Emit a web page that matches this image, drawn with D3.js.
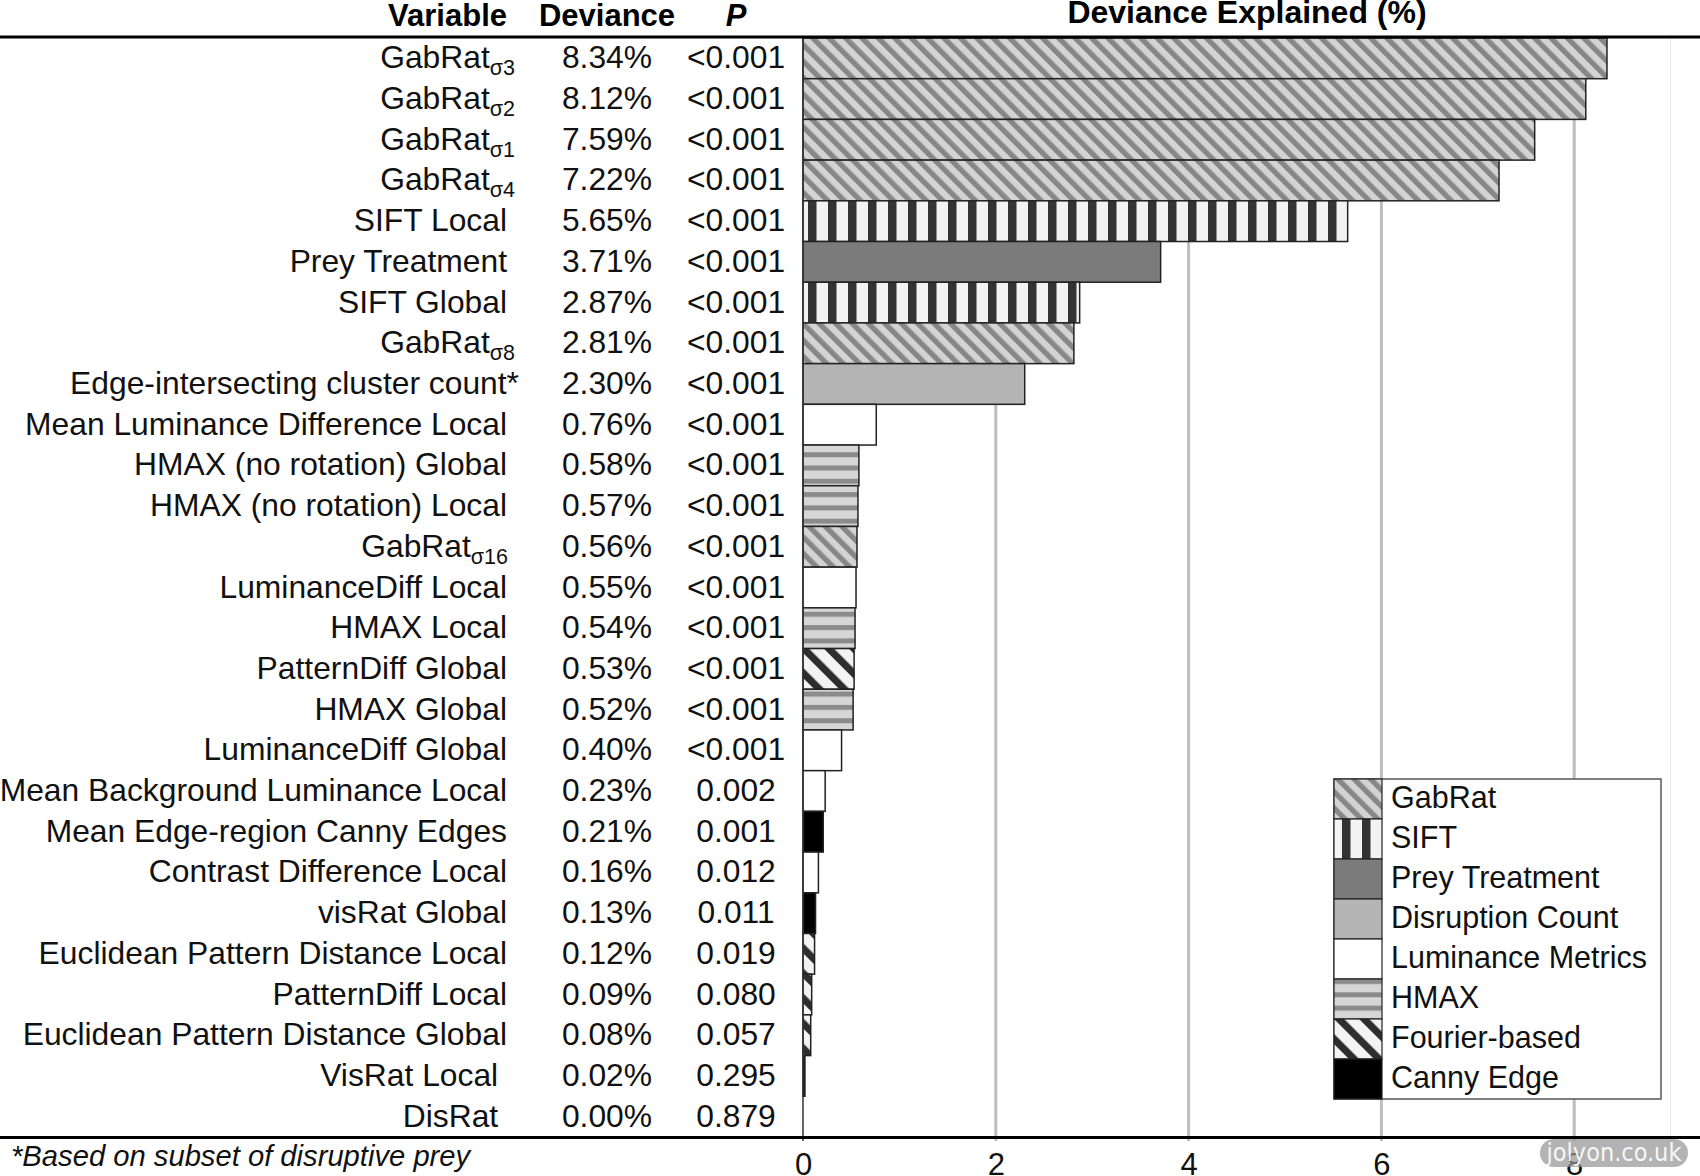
<!DOCTYPE html>
<html>
<head>
<meta charset="utf-8">
<script src="https://cdn.jsdelivr.net/npm/d3@7"></script>
<style>
  html, body { margin: 0; padding: 0; background: #fff; }
  svg { display: block; }
</style>
</head>
<body>
<svg id="chart" width="1700" height="1176"></svg>
<script>
// ---------------- DATA ----------------
const variables = [
  "GabRat_{σ3}", "GabRat_{σ2}", "GabRat_{σ1}", "GabRat_{σ4}",
  "SIFT Local", "Prey Treatment", "SIFT Global", "GabRat_{σ8}",
  "Edge-intersecting cluster count*", "Mean Luminance Difference Local",
  "HMAX (no rotation) Global", "HMAX (no rotation) Local", "GabRat_{σ16}",
  "LuminanceDiff Local", "HMAX Local", "PatternDiff Global", "HMAX Global",
  "LuminanceDiff Global", "Mean Background Luminance Local",
  "Mean Edge-region Canny Edges", "Contrast Difference Local", "visRat Global",
  "Euclidean Pattern Distance Local", "PatternDiff Local",
  "Euclidean Pattern Distance Global", "VisRat Local ", "DisRat "
];
const deviance = [
  8.34, 8.12, 7.59, 7.22, 5.65, 3.71, 2.87, 2.81, 2.30, 0.76, 0.58, 0.57, 0.56,
  0.55, 0.54, 0.53, 0.52, 0.40, 0.23, 0.21, 0.16, 0.13, 0.12, 0.09, 0.08, 0.02, 0.00
];
const pValues = [
  "<0.001", "<0.001", "<0.001", "<0.001", "<0.001", "<0.001", "<0.001", "<0.001",
  "<0.001", "<0.001", "<0.001", "<0.001", "<0.001", "<0.001", "<0.001", "<0.001",
  "<0.001", "<0.001", "0.002", "0.001", "0.012", "0.011", "0.019", "0.080",
  "0.057", "0.295", "0.879"
];
const groups = [
  "GabRat", "GabRat", "GabRat", "GabRat", "SIFT", "Prey Treatment", "SIFT", "GabRat",
  "Disruption Count", "Luminance Metrics", "HMAX", "HMAX", "GabRat",
  "Luminance Metrics", "HMAX", "Fourier-based", "HMAX", "Luminance Metrics",
  "Luminance Metrics", "Canny Edge", "Luminance Metrics", "Canny Edge",
  "Fourier-based", "Fourier-based", "Fourier-based", "Canny Edge", "Canny Edge"
];
const legendGroups = [
  "GabRat", "SIFT", "Prey Treatment", "Disruption Count",
  "Luminance Metrics", "HMAX", "Fourier-based", "Canny Edge"
];
const xTicks = [0, 2, 4, 6, 8];
const headers = { variable: "Variable", deviance: "Deviance", p: "P", axis: "Deviance Explained (%)" };
const footnote = "*Based on subset of disruptive prey";
const watermark = "jolyon.co.uk";

// ---------------- SETUP ----------------
const W = 1700, H = 1176;
const svg = d3.select("#chart");
const bodyFont = "'Liberation Sans', Arial, sans-serif";
const headFont = "'Liberation Sans', Arial, sans-serif";
const bodySize = 31.8;

const x = d3.scaleLinear().domain([0, 9]).range([803, 803 + 9 * 96.4]);
const y = d3.scaleBand().domain(d3.range(variables.length)).range([38, 1137]).padding(0);

// ---------------- PATTERNS ----------------
const defs = svg.append("defs");
function stripePattern(id, period, darkW, light, dark, rotate, offset) {
  const p = defs.append("pattern").attr("id", id)
    .attr("patternUnits", "userSpaceOnUse")
    .attr("width", period).attr("height", period)
    .attr("x", offset || 0);
  if (rotate !== null) p.attr("patternTransform", `rotate(${rotate})`);
  p.append("rect").attr("width", period).attr("height", period).attr("fill", light);
  p.append("rect").attr("x", 0).attr("width", darkW).attr("height", period).attr("fill", dark);
}
function hPattern(id, period, darkH, light, dark) {
  const p = defs.append("pattern").attr("id", id)
    .attr("patternUnits", "userSpaceOnUse")
    .attr("width", period).attr("height", period);
  p.append("rect").attr("width", period).attr("height", period).attr("fill", light);
  p.append("rect").attr("y", 0).attr("width", period).attr("height", darkH).attr("fill", dark);
}
stripePattern("pat-gabrat", 11.6, 5.3, "#d3d3d3", "#878787", -45, 0);
stripePattern("pat-sift", 20, 8.5, "#f3f3f3", "#333333", null, 8);
stripePattern("pat-fourier", 17.7, 7.2, "#f3f3f3", "#2e2e2e", -45, 0);
hPattern("pat-hmax", 13.3, 5, "#d6d6d6", "#8b8b8b");

const fills = {
  "GabRat": "url(#pat-gabrat)",
  "SIFT": "url(#pat-sift)",
  "Prey Treatment": "#7b7b7b",
  "Disruption Count": "#b4b4b4",
  "Luminance Metrics": "#ffffff",
  "HMAX": "url(#pat-hmax)",
  "Fourier-based": "url(#pat-fourier)",
  "Canny Edge": "#000000"
};

// ---------------- GRID ----------------
svg.append("g").selectAll("line.grid")
  .data(xTicks.filter(t => t > 0))
  .join("line")
  .attr("x1", d => x(d)).attr("x2", d => x(d))
  .attr("y1", 38).attr("y2", 1141)
  .attr("stroke", "#bdbdbd").attr("stroke-width", 3);

// faint plot edge
svg.append("line")
  .attr("x1", x(9)).attr("x2", x(9)).attr("y1", 38).attr("y2", 1137)
  .attr("stroke", "#ededed").attr("stroke-width", 1.2);

// ---------------- BARS ----------------
const rows = variables.map((v, i) => ({ i, label: v, dev: deviance[i], p: pValues[i], group: groups[i] }));

svg.append("g").selectAll("rect.bar")
  .data(rows.filter(d => d.dev > 0))
  .join("rect")
  .attr("x", x(0))
  .attr("y", d => y(d.i))
  .attr("width", d => x(d.dev) - x(0))
  .attr("height", y.bandwidth())
  .attr("fill", d => fills[d.group])
  .attr("stroke", "#222")
  .attr("stroke-width", 1.5);

// zero line
svg.append("line")
  .attr("x1", x(0)).attr("x2", x(0)).attr("y1", 38).attr("y2", 1141)
  .attr("stroke", "#333").attr("stroke-width", 1.5);

// ---------------- TABLE TEXT ----------------
const labelG = svg.append("g")
  .attr("font-family", bodyFont).attr("font-size", bodySize).attr("fill", "#111");

rows.forEach(d => {
  const cy = y(d.i) + y.bandwidth() / 2 + 10;
  const m = d.label.match(/^(.*)_\{(.*)\}$/);
  let nudge = 0;
  if (m) nudge = m[2].length <= 2 ? 8 : 1;
  else if (d.label.endsWith("*")) nudge = 12;
  const t = labelG.append("text")
    .attr("x", 507 + nudge).attr("y", cy)
    .attr("text-anchor", "end")
    .style("white-space", "pre");
  if (m) {
    t.append("tspan").text(m[1]);
    t.append("tspan").attr("font-size", 21.5).attr("dy", 7).text(m[2]);
  } else {
    t.text(d.label);
  }
  labelG.append("text")
    .attr("x", 607).attr("y", cy).attr("text-anchor", "middle")
    .text(d3.format(".2f")(d.dev) + "%");
  labelG.append("text")
    .attr("x", 736).attr("y", cy).attr("text-anchor", "middle")
    .text(d.p);
});

// ---------------- HEADERS ----------------
const hg = svg.append("g").attr("font-family", headFont).attr("font-weight", "bold")
  .attr("font-size", 31).attr("fill", "#000");
hg.append("text").attr("x", 507).attr("y", 26).attr("text-anchor", "end").text(headers.variable);
hg.append("text").attr("x", 607).attr("y", 26).attr("text-anchor", "middle").text(headers.deviance);
hg.append("text").attr("x", 736).attr("y", 26).attr("text-anchor", "middle")
  .attr("font-style", "italic").text(headers.p);
hg.append("text").attr("x", 1247).attr("y", 23).attr("text-anchor", "middle")
  .attr("font-size", 32).text(headers.axis);

// rule lines
svg.append("line").attr("x1", 0).attr("x2", W).attr("y1", 37).attr("y2", 37)
  .attr("stroke", "#000").attr("stroke-width", 3);
svg.append("line").attr("x1", 0).attr("x2", W).attr("y1", 1137.5).attr("y2", 1137.5)
  .attr("stroke", "#000").attr("stroke-width", 3);

// ---------------- AXIS ----------------
const axis = d3.axisBottom(x).tickValues(xTicks).tickSize(0).tickPadding(0).tickFormat(d3.format("d"));
const ag = svg.append("g").attr("transform", "translate(0,1137)").call(axis);
ag.select(".domain").remove();
ag.selectAll("text")
  .attr("y", 38).attr("dy", 0)
  .attr("font-family", bodyFont).attr("font-size", 31).attr("fill", "#111");

// ---------------- FOOTNOTE ----------------
svg.append("text").attr("x", 11).attr("y", 1166)
  .attr("font-family", bodyFont).attr("font-style", "italic").attr("font-size", 29.2)
  .attr("fill", "#111").text(footnote);

// ---------------- LEGEND ----------------
const lg = svg.append("g").attr("transform", "translate(1334,779)");
const rowH = 40;
lg.append("rect").attr("width", 327).attr("height", rowH * legendGroups.length)
  .attr("fill", "#fff").attr("stroke", "#555").attr("stroke-width", 1.5);
const li = lg.selectAll("g.item").data(legendGroups).join("g")
  .attr("transform", (d, i) => `translate(0,${i * rowH})`);
li.append("rect").attr("width", 48).attr("height", rowH)
  .attr("fill", d => fills[d]).attr("stroke", "#222").attr("stroke-width", 1.2);
li.append("text").attr("x", 57).attr("y", rowH / 2 + 9)
  .attr("font-family", bodyFont).attr("font-size", 30.5).attr("fill", "#111")
  .text(d => d);

// ---------------- WATERMARK ----------------
const wm = svg.append("g");
wm.append("rect").attr("x", 1540).attr("y", 1139).attr("width", 148).attr("height", 28)
  .attr("rx", 14).attr("fill", "rgba(150,150,150,0.72)");
wm.append("text").attr("x", 1614).attr("y", 1161).attr("text-anchor", "middle")
  .attr("font-family", "'Liberation Sans Narrow', 'DejaVu Sans Condensed', sans-serif")
  .attr("font-size", 25).attr("fill", "rgba(255,255,255,0.92)").text(watermark);
</script>
</body>
</html>
